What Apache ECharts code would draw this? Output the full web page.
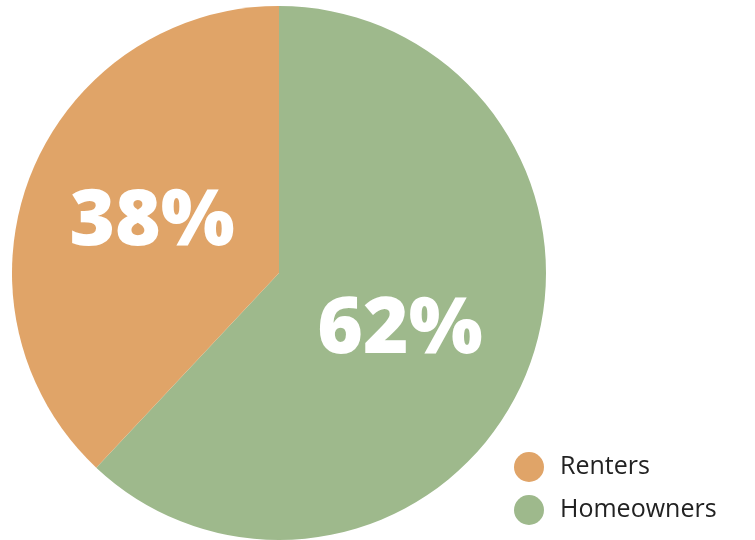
<!DOCTYPE html>
<html>
<head>
<meta charset="utf-8">
<script src="https://cdn.jsdelivr.net/npm/echarts@6/dist/echarts.min.js"></script>
<style>
  html, body { margin: 0; padding: 0; background: #fff; }
  #chart { width: 755px; height: 540px; }
</style>
</head>
<body>
<div id="chart"></div>
<script>
// slices, in clockwise order from 12 o'clock
const names = ['Homeowners', 'Renters']
const values = [62, 38]
const colors = ['#9EB98C', '#E0A468']
const legendOrder = ['Renters', 'Homeowners']

const chart = echarts.init(document.getElementById('chart'))

// small nudges so the big labels sit where the original had them
const labelOffsets = [[-6, 8], [0, 0]]

const option = {
  animation: false,
  legend: {
    data: legendOrder,
    orient: 'vertical',
    left: 509,
    top: 447,
    icon: 'circle',
    itemWidth: 30,
    itemHeight: 30,
    itemGap: 13,
    textStyle: {
      fontFamily: 'Open Sans',
      fontSize: 25,
      color: '#222',
      padding: [0, 0, 0, 11]
    }
  },
  series: [
    {
      type: 'pie',
      center: [279, 273],
      radius: [0, 267],
      startAngle: 90,
      clockwise: true,
      label: {
        position: 'inside',
        formatter: '{c}%',
        color: '#fff',
        fontFamily: 'Open Sans',
        fontWeight: 800,
        fontSize: 78
      },
      labelLine: { show: false },
      itemStyle: { borderWidth: 0 },
      emphasis: { disabled: true },
      data: names.map((n, i) => ({
        name: n,
        value: values[i],
        itemStyle: { color: colors[i] },
        label: { offset: labelOffsets[i] }
      }))
    }
  ]
}

chart.setOption(option)
</script>
</body>
</html>
